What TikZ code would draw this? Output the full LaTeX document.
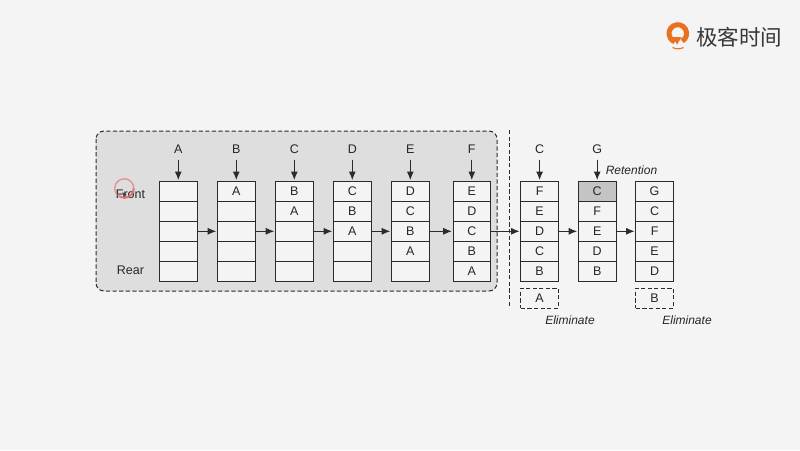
\documentclass[tikz,border=0pt]{standalone}
\usepackage{fontspec}
\setmainfont{Liberation Sans}
\newfontfamily\cjkfont{Noto Sans CJK SC}
\usetikzlibrary{arrows.meta}
\definecolor{bgc}{HTML}{F4F4F4}
\definecolor{panelc}{HTML}{DEDEDE}
\definecolor{inkc}{HTML}{2B2B2B}
\definecolor{logoc}{HTML}{E8701E}
\definecolor{keepc}{HTML}{C4C4C4}
\definecolor{ringc}{HTML}{E26A6A}
\tikzset{
  x=1pt,y=-1pt,
  cell/.style={draw=inkc,line width=0.95pt,fill=bgc,minimum width=37.6pt,minimum height=20pt,inner sep=0pt,text=black!85,font=\fontsize{12.5}{14}\selectfont},
  lbl/.style={inner sep=0pt,text=black!85,font=\fontsize{12.5}{14}\selectfont},
  note/.style={inner sep=0pt,text=black!85,font=\fontsize{12}{14}\selectfont\itshape},
  arr/.style={draw=inkc,line width=0.95pt,-{Latex[length=8.5pt,width=7pt]},shorten >=0.8pt},
  dashline/.style={draw=inkc,line width=1pt,dash pattern=on 4.2pt off 2.4pt},
}
\def\firstfill{bgc}
% \qcol{name}{left x}{top letter}{cell1}{cell2}{cell3}{cell4}{cell5}
\newcommand{\qcol}[8]{%
  \node[cell,fill=\firstfill] (#1r1) at (#2+18.8,191.3) {\raisebox{-1.4pt}{#4}};
  \node[cell] (#1r2) at (#2+18.8,211.3) {\raisebox{-1.4pt}{#5}};
  \node[cell] (#1r3) at (#2+18.8,231.3) {\raisebox{-1.4pt}{#6}};
  \node[cell] (#1r4) at (#2+18.8,251.3) {\raisebox{-1.4pt}{#7}};
  \node[cell] (#1r5) at (#2+18.8,271.3) {\raisebox{-1.4pt}{#8}};
  \if\relax\detokenize{#3}\relax\else
    \node[lbl] (#1t) at (#2+18.8,149) {#3};
    \draw[arr] (#1t.south)++(0,6) -- (#1r1.north);
  \fi
}
\begin{document}
\begin{tikzpicture}
\useasboundingbox (0,0) rectangle (800,450);
\fill[bgc] (0,0) rectangle (800,450);
% logo
\draw[logoc,line width=5pt] (682.2,41.1) arc[start angle=60,end angle=-250,radius=8.8];
\fill[logoc] (672.8,37) -- (681.6,37) -- (677,44.5) -- cycle;
\draw[logoc,line width=1.1pt] (672.5,47.5) to[bend right=25] (683.5,47.5);
\node[inner sep=0pt,text=black!78,font=\fontsize{21.5}{22}\selectfont\cjkfont] (logotext) at (739,37.5) {极客时间};
% panel
\draw[dashline,fill=panelc,rounded corners=8pt] (96,131) rectangle (497,291);
\draw[dashline] (509,130) -- (509,308);
% side labels
\node[lbl] (front) at (130.5,194.7) {Front};
\node[lbl] (rear) at (130.5,270) {Rear};
\draw[ringc,opacity=.6,line width=1.5pt] (124.3,188.3) circle[radius=9.5];
\draw[ringc,opacity=.8,line width=2pt] (133.8,188.3) arc[start angle=0,end angle=120,radius=9.5];
\fill[inkc,opacity=.8] (122.5,192) -- (127,195) -- (124.5,195.6) -- (123.5,197) -- cycle;
% columns
\qcol{a}{159.5}{A}{}{}{}{}{}
\qcol{b}{217.5}{B}{A}{}{}{}{}
\qcol{c}{275.5}{C}{B}{A}{}{}{}
\qcol{d}{333.5}{D}{C}{B}{A}{}{}
\qcol{e}{391.5}{E}{D}{C}{B}{A}{}
\qcol{f}{453}{F}{E}{D}{C}{B}{A}
\qcol{g}{520.8}{C}{F}{E}{D}{C}{B}
\def\firstfill{keepc}
\qcol{h}{578.4}{G}{C}{F}{E}{D}{B}
\def\firstfill{bgc}
\qcol{i}{635.8}{}{G}{C}{F}{E}{D}
% connectors
\foreach \p/\q in {a/b,b/c,c/d,d/e,e/f,f/g,g/h,h/i}
  \draw[arr] (\p r3.east) -- (\q r3.west);
% evicted
\node[cell,dashline,fill=bgc] (evA) at (539.6,298) {\raisebox{-1.4pt}{A}};
\node[cell,dashline,fill=bgc] (evB) at (654.6,298) {\raisebox{-1.4pt}{B}};
\node[note] (n1) at (570,320) {Eliminate};
\node[note] (n2) at (687,320) {Eliminate};
\node[note] (n3) at (631.5,170) {Retention};
\end{tikzpicture}
\end{document}
